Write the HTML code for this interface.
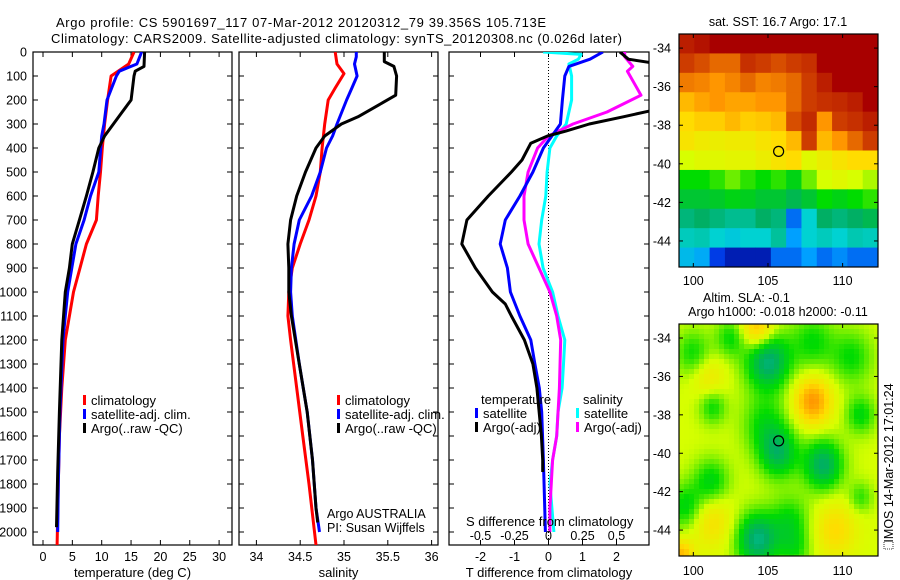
<!DOCTYPE html>
<html><head><meta charset="utf-8"><style>
html,body{margin:0;padding:0;background:#fff;}
svg{display:block;font-family:"Liberation Sans",Arial,sans-serif;}
</style></head><body>
<svg id="fig" width="900" height="580" viewBox="0 0 900 580" xmlns="http://www.w3.org/2000/svg">
<defs>
<clipPath id="c1"><rect x="33" y="52" width="199" height="493"/></clipPath>
<clipPath id="c2"><rect x="239" y="52" width="199" height="493"/></clipPath>
<clipPath id="c3"><rect x="449" y="52" width="200" height="493"/></clipPath>
</defs>
<text x="56" y="27" font-size="13" textLength="490">Argo profile: CS 5901697_117 07-Mar-2012 20120312_79 39.356S 105.713E</text>
<text x="51" y="43" font-size="13" textLength="571">Climatology: CARS2009. Satellite-adjusted climatology: synTS_20120308.nc (0.026d later)</text>
<g id="g1"></g>
<g id="g2"></g>
<g id="g3"></g>
<g id="g4"></g>
<g id="g5"></g>
</svg>
<script>
// ---------- profile data (depth m, value) ----------
const tClimD=[0,50,100,200,300,400,500,600,700,800,900,1000,1100,1200,1400,1600,1800,2054];
const tClimV=[15.5,14.6,11.6,11,10.5,10.1,9.8,9.4,9.1,7.4,6.3,5.2,4.5,3.8,3.2,2.8,2.6,2.4];
const tSatD=[0,50,80,100,200,300,350,500,600,700,800,900,1000,1100,1200,1500,1800,2000];
const tSatV=[16.8,16,13,12.5,10.9,10.4,10,9.5,8.1,7,5.6,4.9,4.2,3.8,3.4,2.9,2.6,2.5];
const tArgD=[0,60,80,100,200,250,300,350,400,500,600,700,800,900,1000,1200,1500,1750,1980];
const tArgV=[17.3,17.2,15.7,15.5,15,13.5,12,10.5,9.5,8.5,7.4,6.2,5,4.5,3.8,3.2,2.8,2.5,2.3];

const sClimD=[0,50,90,150,200,300,400,500,600,700,800,900,1000,1100,1200,1400,1600,1800,2054];
const sClimV=[34.9,34.92,35.0,34.9,34.82,34.78,34.75,34.73,34.68,34.6,34.5,34.41,34.37,34.36,34.39,34.46,34.53,34.6,34.68];
const sSatD=[0,20,50,100,150,200,300,350,400,500,600,700,800,900,1000,1100,1300,1500,1700,1900,2000];
const sSatV=[35.14,35.14,35.12,35.15,35.09,35.03,34.92,34.87,34.8,34.73,34.63,34.49,34.43,34.4,34.39,34.41,34.49,34.58,34.64,34.68,34.72];
const sArgD=[0,40,60,100,180,220,270,300,350,400,500,600,700,800,900,1000,1100,1300,1500,1700,1900,1960];
const sArgV=[35.46,35.46,35.57,35.6,35.59,35.4,35.16,34.97,34.78,34.68,34.56,34.46,34.39,34.36,34.37,34.37,34.4,34.49,34.58,34.64,34.68,34.7];

const dTSatD=[0,30,60,100,200,300,350,400,500,600,700,800,900,1000,1100,1200,1300,1400,1500,1700,2000];
const dTSatV=[1.6,1.22,0.6,0.48,0.41,0.35,0.1,-0.15,-0.46,-0.84,-1.27,-1.42,-1.21,-1.12,-0.84,-0.52,-0.4,-0.27,-0.2,-0.15,-0.09];
const dTArgD=[0,30,55,230,245,270,300,330,350,380,450,500,600,700,800,900,1000,1050,1100,1200,1300,1400,1600,1700,1750];
const dTArgV=[2.1,2.35,3.5,3.5,3.0,2.2,1.2,0.5,-0.03,-0.52,-0.78,-1.09,-1.77,-2.4,-2.55,-2.15,-1.65,-1.27,-1.09,-0.71,-0.46,-0.34,-0.21,-0.17,-0.17];
const dSSatD=[0,10,30,50,100,200,300,350,400,500,600,700,800,900,1000,1100,1200,1300,1400,1500,1600,1700,1800,2000];
const dSSatV=[-0.04,0.24,0.22,0.15,0.17,0.17,0.13,0.06,0.01,-0.01,-0.02,-0.05,-0.07,-0.04,0.03,0.07,0.12,0.11,0.1,0.07,0.06,0.03,0.01,0.04];
const dSArgD=[0,20,60,80,180,250,300,350,400,500,600,700,800,900,1000,1100,1200,1400,1600,1700,1900,2000];
const dSArgV=[0.56,0.56,0.62,0.58,0.68,0.43,0.18,0,-0.08,-0.15,-0.18,-0.18,-0.15,-0.07,0.01,0.06,0.09,0.08,0.06,0.03,0.01,0.01];

const depthTicks=[0,100,200,300,400,500,600,700,800,900,1000,1100,1200,1300,1400,1500,1600,1700,1800,1900,2000];
const tTicks=[0,5,10,15,20,25,30];
const sTicks=[34,34.5,35,35.5,36];
const dTTicks=[-2,-1,0,1,2];
const dSTicks=[-0.5,-0.25,0,0.25,0.5];
const dSTickLabels=["-0.5","-0.25","0","0.25","0.5"];

// ---------- SST map grid (colour index 0..1), rows north->south ----------
const sstRows=[
[0.95,0.97,1,1,1,1,1,1,1,1,1,1,1],
[0.9,0.88,0.85,0.85,0.92,0.9,0.88,0.9,0.92,1,1,1,1],
[0.83,0.82,0.8,0.82,0.85,0.82,0.83,0.85,0.9,0.95,1,1,1],
[0.75,0.78,0.8,0.78,0.78,0.8,0.8,0.85,0.9,0.92,0.93,0.95,1],
[0.7,0.72,0.72,0.75,0.72,0.73,0.75,0.88,0.93,0.8,0.9,0.92,0.95],
[0.68,0.66,0.65,0.66,0.66,0.68,0.7,0.75,0.9,0.75,0.8,0.85,0.9],
[0.6,0.62,0.62,0.63,0.63,0.65,0.68,0.7,0.62,0.65,0.68,0.7,0.7],
[0.5,0.5,0.52,0.55,0.52,0.5,0.52,0.48,0.55,0.6,0.62,0.6,0.58],
[0.45,0.45,0.46,0.48,0.47,0.45,0.45,0.42,0.45,0.5,0.48,0.5,0.52],
[0.38,0.4,0.38,0.36,0.36,0.4,0.38,0.15,0.3,0.4,0.38,0.4,0.42],
[0.32,0.33,0.3,0.28,0.3,0.3,0.35,0.2,0.3,0.32,0.3,0.33,0.32],
[0.25,0.22,0.1,0.05,0.05,0.05,0.15,0.15,0.2,0.15,0.18,0.15,0.15]];
// ---------- SLA map features ----------
const slaBase=0.6;
const blobLon=[105.0,105.7,108.7,104.3,108.0,104.3,101.0,101.2,109.5,99.2,104.8,102.5,100.0,101.3,101.2,99.5,106.5,111.2,110.6,108.0,111.2,106.8];
const blobLat=[-35.2,-40.0,-40.6,-44.5,-37.3,-33.5,-36.0,-43.5,-44.0,-45.3,-38.5,-34.0,-34.8,-37.6,-41.5,-42.8,-43.5,-38.0,-35.0,-34.2,-42.3,-45.0];
const blobAmp=[-0.22,-0.17,-0.2,-0.22,0.2,0.16,0.07,0.09,0.1,0.15,-0.1,-0.1,-0.1,-0.1,-0.12,-0.12,-0.1,-0.11,-0.1,-0.1,-0.08,-0.08];
const blobRad=[1.5,1.3,1.3,1.4,1.2,1.1,1.1,1.4,1.4,0.8,1.5,1.0,1.2,0.9,1.2,1.2,1.3,1.0,1.4,1.4,0.8,1.1];
const argoLon=105.713, argoLat=-39.356;
const lonTicks=[100,105,110];
const latTicks=[-34,-36,-38,-40,-42,-44];

const NS="http://www.w3.org/2000/svg";
function mk(tag,attrs,parent){const e=document.createElementNS(NS,tag);for(const k in attrs)e.setAttribute(k,attrs[k]);parent.appendChild(e);return e;}
function txt(s,x,y,anchor,size,parent){const e=mk('text',{x:x,y:y,'text-anchor':anchor,'font-size':size},parent);e.textContent=s;return e;}

const TOP=52,BOT=545;
const yD=d=>TOP+d*0.24;
const xT=t=>43+t*5.87;
const xS=s=>256.4+(s-34)*87.6;
const xDT=t=>548.5+t*34;
const xDS=s=>548.5+s*136;

function frame(g,x0,x1,xticks,xf,labels,xlabel,clip,showY){
  for(const d of depthTicks){
    const y=yD(d);
    const t1=mk('line',{x1:x0,x2:x0+5,y1:y,y2:y,stroke:'#000'},g);
    
    
    mk('line',{x1:x1-5,x2:x1,y1:y,y2:y,stroke:'#000'},g);
    if(showY){const l=txt(String(d),27,y+4.5,'end',12.5,g);
      
      }
  }
  xticks.forEach((v,i)=>{
    const x=xf(v);
    const t=mk('line',{x1:x,x2:x,y1:BOT,y2:BOT-5,stroke:'#000'},g);
    
    
    mk('line',{x1:x,x2:x,y1:TOP,y2:TOP+5,stroke:'#000'},g);
    const l=txt(labels?labels[i]:String(v),x,561,'middle',12.5,g);
    
    
  });
  const r=mk('rect',{x:x0,y:TOP,width:x1-x0,height:BOT-TOP,fill:'none',stroke:'#000','stroke-width':1.2},g);
  
  
  const xl=txt(xlabel,(x0+x1)/2,577,'middle',13,g);
  
  
}
function line(g,D,V,xf,color,name,clip){
  const pts=D.map((d,i)=>xf(V[i]).toFixed(1)+','+yD(d).toFixed(1)).join(' ');
  const p=mk('polyline',{points:pts,fill:'none',stroke:color,'stroke-width':3,'stroke-linejoin':'round','clip-path':'url(#'+clip+')'},g);
  
  
}
function legend(g,x,y,color,label,name){
  const m=mk('rect',{x:x,y:y-10,width:3,height:10,fill:color},g);
  
  
  const t=txt(label,x+8,y,'start',13,g);
  
  
}

// Panel 1
const g1=document.getElementById('g1');
frame(g1,33,232,tTicks,xT,null,'temperature (deg C)','c1',true);
line(g1,tClimD,tClimV,xT,'#f00','temp-climatology-line','c1');
line(g1,tSatD,tSatV,xT,'#00f','temp-satellite-line','c1');
line(g1,tArgD,tArgV,xT,'#000','temp-argo-line','c1');
legend(g1,83,405,'#f00','climatology','legend-climatology');
legend(g1,83,419,'#00f','satellite-adj. clim.','legend-satellite');
legend(g1,83,433,'#000','Argo(..raw -QC)','legend-argo');

// Panel 2
const g2=document.getElementById('g2');
frame(g2,239,438,sTicks,xS,null,'salinity','c2',false);
line(g2,sClimD,sClimV,xS,'#f00','sal-climatology-line','c2');
line(g2,sSatD,sSatV,xS,'#00f','sal-satellite-line','c2');
line(g2,sArgD,sArgV,xS,'#000','sal-argo-line','c2');
legend(g2,337,405,'#f00','climatology','legend-climatology');
legend(g2,337,419,'#00f','satellite-adj. clim.','legend-satellite');
legend(g2,337,433,'#000','Argo(..raw -QC)','legend-argo');
let a=txt('Argo AUSTRALIA',327,518,'start',12.5,g2);


a=txt('PI: Susan Wijffels',327,532,'start',12.5,g2);



// Panel 3
const g3=document.getElementById('g3');
frame(g3,449,649,dTTicks,xDT,null,'T difference from climatology','c3',false);
const zl=mk('line',{x1:548.5,x2:548.5,y1:TOP,y2:BOT,stroke:'#000','stroke-dasharray':'1,2'},g3);


line(g3,dSSatD,dSSatV,xDS,'#0ff','sdiff-satellite-line','c3');
line(g3,dSArgD,dSArgV,xDS,'#f0f','sdiff-argo-line','c3');
line(g3,dTSatD,dTSatV,xDT,'#00f','tdiff-satellite-line','c3');
line(g3,dTArgD,dTArgV,xDT,'#000','tdiff-argo-line','c3');
a=txt('temperature',481,404,'start',13,g3);


a=txt('salinity',583,404,'start',13,g3);


legend(g3,475,418,'#00f','satellite','legend-t-satellite');
legend(g3,475,432,'#000','Argo(-adj)','legend-t-argo');
legend(g3,576,418,'#0ff','satellite','legend-s-satellite');
legend(g3,576,432,'#f0f','Argo(-adj)','legend-s-argo');
a=txt('S difference from climatology',466,526,'start',13,g3);


dSTicks.forEach((v,i)=>{
  const l=txt(dSTickLabels[i],xDS(v),540,'middle',12.5,g3);
  
  
});

// ---------- maps ----------
const cmStops=[[0,0,0,128],[0.1,0,60,230],[0.2,0,160,255],[0.3,0,210,210],[0.4,0,175,100],[0.5,0,220,0],[0.6,215,255,0],[0.7,255,220,0],[0.8,255,150,0],[0.9,205,60,0],[1,168,0,0]];
function cmap(v){v=Math.max(0,Math.min(1,v));for(let i=1;i<cmStops.length;i++){const b=cmStops[i];if(v<=b[0]){const a=cmStops[i-1];const f=(v-a[0])/(b[0]-a[0]);return 'rgb('+[1,2,3].map(k=>Math.round(a[k]+f*(b[k]-a[k]))).join(',')+')';}}return 'rgb(168,0,0)';}
const MX0=679,MX1=878,LON0=99.04,LON1=112.37,LAT0=-33.27,LAT1=-45.35;
function mapAxes(g,y0,y1){
  const xl=l=>MX0+(l-LON0)/(LON1-LON0)*(MX1-MX0);
  const yl=l=>y0+(l-LAT0)/(LAT1-LAT0)*(y1-y0);
  return {xl,yl};
}
function mapDecor(g,y0,y1,xl,yl,labY){
  const r=mk('rect',{x:MX0,y:y0,width:MX1-MX0,height:y1-y0,fill:'none',stroke:'#000','stroke-width':1.2},g);
  
  
  for(const la of latTicks){const y=yl(la);
    mk('line',{x1:MX0,x2:MX0+4,y1:y,y2:y,stroke:'#000'},g);mk('line',{x1:MX1-4,x2:MX1,y1:y,y2:y,stroke:'#000'},g);
    const t=txt(String(la),671,y+4.5,'end',12.5,g);
    
    }
  for(const lo of lonTicks){const x=xl(lo);
    mk('line',{x1:x,x2:x,y1:y1,y2:y1-4,stroke:'#000'},g);mk('line',{x1:x,x2:x,y1:y0,y2:y0+4,stroke:'#000'},g);
    const t=txt(String(lo),x,labY,'middle',12.5,g);
    
    }
  const c=mk('ellipse',{cx:xl(argoLon),cy:yl(argoLat),rx:5,ry:5,fill:'none',stroke:'#000','stroke-width':1.2},g);
  
  
}
// SST
const g4=document.getElementById('g4');
{const y0=34,y1=267;const {xl,yl}=mapAxes(g4,y0,y1);
 const nr=sstRows.length,nc=sstRows[0].length,cw=(MX1-MX0)/nc,ch=(y1-y0)/nr;
 sstRows.forEach((row,i)=>row.forEach((v,j)=>{
   const c=mk('rect',{x:(MX0+j*cw).toFixed(2),y:(y0+i*ch).toFixed(2),width:(cw+0.5).toFixed(2),height:(ch+0.5).toFixed(2),fill:cmap(v)},g4);
   
   
 }));
 mapDecor(g4,y0,y1,xl,yl,285);
 const t=txt('sat. SST: 16.7 Argo: 17.1',778,26,'middle',12.5,g4);
 
 
}
// SLA
const g5=document.getElementById('g5');
{const y0=324,y1=556;const {xl,yl}=mapAxes(g5,y0,y1);
 const cs=5;
 for(let y=y0;y<y1;y+=cs){for(let x=MX0;x<MX1;x+=cs){
   const lon=LON0+(x+cs/2-MX0)/(MX1-MX0)*(LON1-LON0);
   const lat=LAT0+(y+cs/2-y0)/(y1-y0)*(LAT1-LAT0);
   let v=slaBase;
   for(let k=0;k<blobLon.length;k++){const dx=lon-blobLon[k],dy=lat-blobLat[k];v+=blobAmp[k]*Math.exp(-(dx*dx+dy*dy)/(blobRad[k]*blobRad[k]));}
   const c=mk('rect',{x:x,y:y,width:Math.min(cs,MX1-x)+0.3,height:Math.min(cs,y1-y)+0.3,fill:cmap(v)},g5);
   
   
 }}
 mapDecor(g5,y0,y1,xl,yl,575);
 let t=txt('Altim. SLA: -0.1',703,302,'start',12.5,g5);
 
 
 t=txt('Argo h1000: -0.018 h2000: -0.11',778,316,'middle',12.5,g5);
 
 
 t=txt('IMOS 14-Mar-2012 17:01:24',0,0,'middle',12.5,g5);
 t.setAttribute('transform','translate(893,463) rotate(-90)');
 
 
 const ic=mk('rect',{x:884,y:541,width:9,height:8,fill:'none',stroke:'#000','stroke-width':0.8,'stroke-dasharray':'1,1'},g5);
 
 
}
</script>
</body></html>
